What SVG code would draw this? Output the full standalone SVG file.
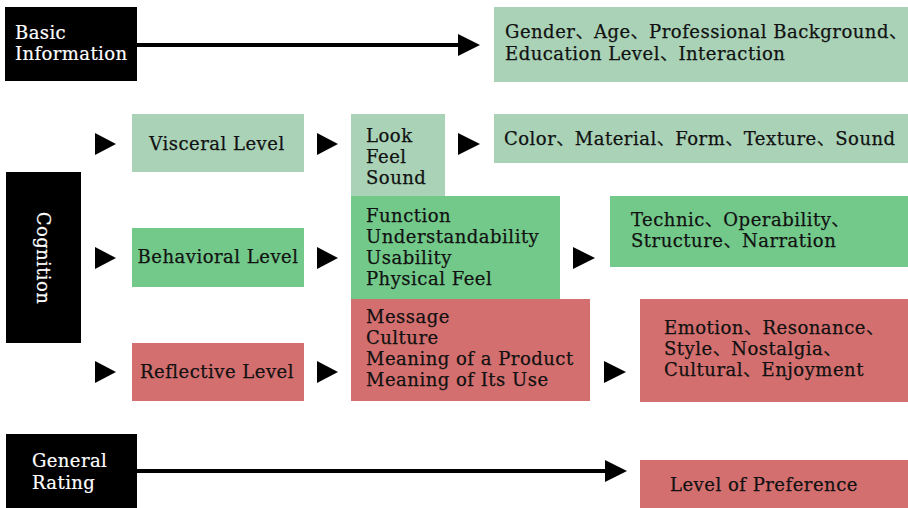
<svg xmlns="http://www.w3.org/2000/svg" width="908" height="508" viewBox="0 0 908 508">
  <defs>
    <style>
      text { font-family: "DejaVu Serif", "Liberation Serif", "Noto Sans CJK SC", serif; font-size: 18px; letter-spacing: 0.5px; fill: #111; stroke: #111; stroke-width: 0.25px; }
      .head { fill: #000; }
      .head-t { fill: #fff; stroke: #fff; stroke-width: 0.2px; letter-spacing: 0.4px; }
      .g1 { fill: #a9d2b7; }
      .g2 { fill: #72c98a; }
      .r1 { fill: #d46f6f; }
      .mid { text-anchor: middle; }
      .tri { fill: #000; }
      .line { stroke: #000; stroke-width: 4; fill: none; }
    </style>
  </defs>

  <!-- header boxes -->
  <g id="basic-information">
    <rect class="head" x="5" y="7" width="132" height="74"/>
    <text class="head-t" x="15" y="39">Basic</text>
    <text class="head-t" x="15" y="60">Information</text>
  </g>
  <g id="cognition">
    <rect class="head" x="6" y="172" width="75" height="171"/>
    <text class="head-t mid" transform="translate(37 258) rotate(90)">Cognition</text>
  </g>
  <g id="general-rating">
    <rect class="head" x="6" y="434" width="131" height="74"/>
    <text class="head-t" x="32" y="467">General</text>
    <text class="head-t" x="32" y="489">Rating</text>
  </g>

  <!-- information -->
  <g id="info-items">
    <rect class="g1" x="494" y="7" width="414" height="75"/>
    <text x="505" y="38">Gender、Age、Professional Background、</text>
    <text x="505" y="60">Education Level、Interaction</text>
  </g>

  <!-- visceral row -->
  <g id="visceral-level">
    <rect class="g1" x="132" y="114" width="172" height="58"/>
    <text class="mid" x="217" y="150">Visceral Level</text>
  </g>
  <g id="visceral-senses">
    <rect class="g1" x="351" y="114" width="94" height="82"/>
    <text x="366" y="142">Look</text>
    <text x="366" y="163">Feel</text>
    <text x="366" y="184">Sound</text>
  </g>
  <g id="visceral-attributes">
    <rect class="g1" x="494" y="114" width="414" height="49"/>
    <text x="504" y="145">Color、Material、Form、Texture、Sound</text>
  </g>

  <!-- behavioral row -->
  <g id="behavioral-level">
    <rect class="g2" x="132" y="228" width="172" height="59"/>
    <text class="mid" x="218" y="263">Behavioral Level</text>
  </g>
  <g id="behavioral-qualities">
    <rect class="g2" x="351" y="196" width="209" height="103"/>
    <text x="366" y="222">Function</text>
    <text x="366" y="243">Understandability</text>
    <text x="366" y="264">Usability</text>
    <text x="366" y="285">Physical Feel</text>
  </g>
  <g id="behavioral-attributes">
    <rect class="g2" x="610" y="196" width="298" height="71"/>
    <text x="631" y="226">Technic、Operability、</text>
    <text x="631" y="247">Structure、Narration</text>
  </g>

  <!-- reflective row -->
  <g id="reflective-level">
    <rect class="r1" x="132" y="343" width="172" height="58"/>
    <text class="mid" x="217" y="378">Reflective Level</text>
  </g>
  <g id="reflective-meanings">
    <rect class="r1" x="351" y="299" width="239" height="102"/>
    <text x="366" y="323">Message</text>
    <text x="366" y="344">Culture</text>
    <text x="366" y="365">Meaning of a Product</text>
    <text x="366" y="386">Meaning of Its Use</text>
  </g>
  <g id="reflective-attributes">
    <rect class="r1" x="640" y="299" width="268" height="103"/>
    <text x="664" y="334">Emotion、Resonance、</text>
    <text x="664" y="355">Style、Nostalgia、</text>
    <text x="664" y="376">Cultural、Enjoyment</text>
  </g>

  <!-- rating -->
  <g id="preference">
    <rect class="r1" x="640" y="460" width="268" height="48"/>
    <text x="670" y="491">Level of Preference</text>
  </g>

  <!-- connectors -->
  <g id="connectors">
    <path class="line" d="M137 45 H460"/>
    <polygon class="tri" points="458,34 480,45 458,56"/>
    <path class="line" d="M137 471 H607"/>
    <polygon class="tri" points="605,460 627,471 605,482"/>

    <polygon class="tri" points="95,133 116,144 95,155"/>
    <polygon class="tri" points="317,133 338,144 317,155"/>
    <polygon class="tri" points="458,133 480,144 458,155"/>

    <polygon class="tri" points="95,247 116,258 95,269"/>
    <polygon class="tri" points="317,247 338,258 317,269"/>
    <polygon class="tri" points="573,247 595,258 573,269"/>

    <polygon class="tri" points="95,361 116,372 95,383"/>
    <polygon class="tri" points="317,361 338,372 317,383"/>
    <polygon class="tri" points="604,361 626,372 604,383"/>
  </g>
</svg>
